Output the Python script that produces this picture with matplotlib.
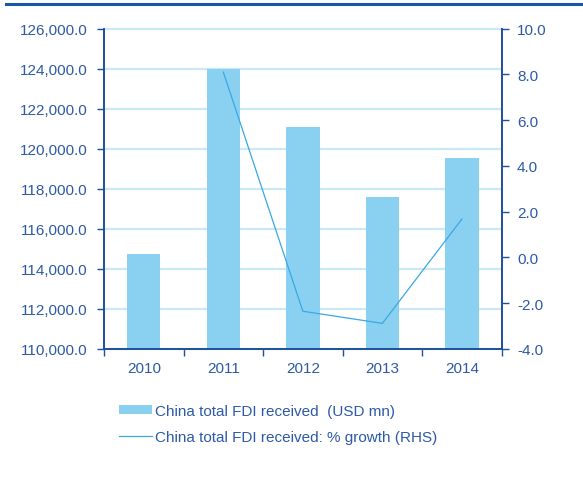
import numpy as np
import matplotlib.pyplot as plt
from matplotlib.lines import Line2D

plt.rcParams['font.family'] = ['Liberation Sans', 'DejaVu Sans']

years = ['2010', '2011', '2012', '2013', '2014']
fdi_usd_mn = [114734, 124000, 121073, 117586, 119560]
growth_pct = [np.nan, 8.1, -2.35, -2.88, 1.68]

txt = '#2c5aa6'
spine = '#1d4f9c'
bar_col = '#8ad1f1'
line_col = '#3aa8e2'
grid_col = '#c9e9f7'

fig = plt.figure(figsize=(5.83, 4.85), dpi=100)
ax = fig.add_axes([104 / 583, 1 - 350 / 485, (501.7 - 104) / 583, (350 - 29.6) / 485])
ax2 = ax.twinx()

x = np.arange(len(years))
ax.bar(x, fdi_usd_mn, width=0.42, color=bar_col, zorder=2,
       label='China total FDI received  (USD mn)')
ax2.plot(x, growth_pct, color=line_col, lw=0.9,
         label='China total FDI received: % growth (RHS)')

ax.set_xlim(-0.5, 4.5)
ax.set_ylim(110000, 126000)
ax.set_yticks(np.arange(110000, 126001, 2000))
ax.set_yticklabels([f'{v:,.1f}' for v in np.arange(110000, 126001, 2000)])
ax2.set_ylim(-4, 10)
ax2.set_yticks(np.arange(-4, 10.1, 2))
ax2.set_yticklabels([f'{v:.1f}' for v in np.arange(-4, 10.1, 2)])

ax.yaxis.grid(True, color=grid_col, lw=1.6, zorder=0)
for gl in ax.get_ygridlines():
    gl.set_clip_on(False)
ax.set_axisbelow(True)

ax.set_xticks(x)
ax.set_xticklabels(years)
ax.set_xticks(np.arange(-0.5, 4.6, 1), minor=True)
ax.tick_params(axis='x', which='major', length=0, pad=9, labelsize=11, labelcolor=txt)
ax.tick_params(axis='x', which='minor', length=5, width=1, color=spine, direction='out')
ax.tick_params(axis='y', length=5, width=1, color=spine, pad=7, labelsize=11, labelcolor=txt)
ax2.tick_params(axis='y', length=5, width=1, color=spine, pad=6, labelsize=11, labelcolor=txt)

for a in (ax, ax2):
    a.spines['top'].set_visible(False)
    for s in ('left', 'right', 'bottom'):
        a.spines[s].set_color(spine)
        a.spines[s].set_linewidth(1.2)

# dark rule across the top of the picture
fig.add_artist(Line2D([6 / 583, 1], [1 - 5 / 485, 1 - 5 / 485], color='#1756a9', lw=2.2))

h1, l1 = ax.get_legend_handles_labels()
h2, l2 = ax2.get_legend_handles_labels()
fig.legend(h1 + h2, l1 + l2, loc='upper left', bbox_to_anchor=(119 / 583, 1 - 405 / 485),
           frameon=False, fontsize=11, labelcolor=txt, borderpad=0, borderaxespad=0,
           handlelength=2.15, handleheight=0.5, handletextpad=0.2, labelspacing=0.78)

fig.savefig('out.png', dpi=100)
